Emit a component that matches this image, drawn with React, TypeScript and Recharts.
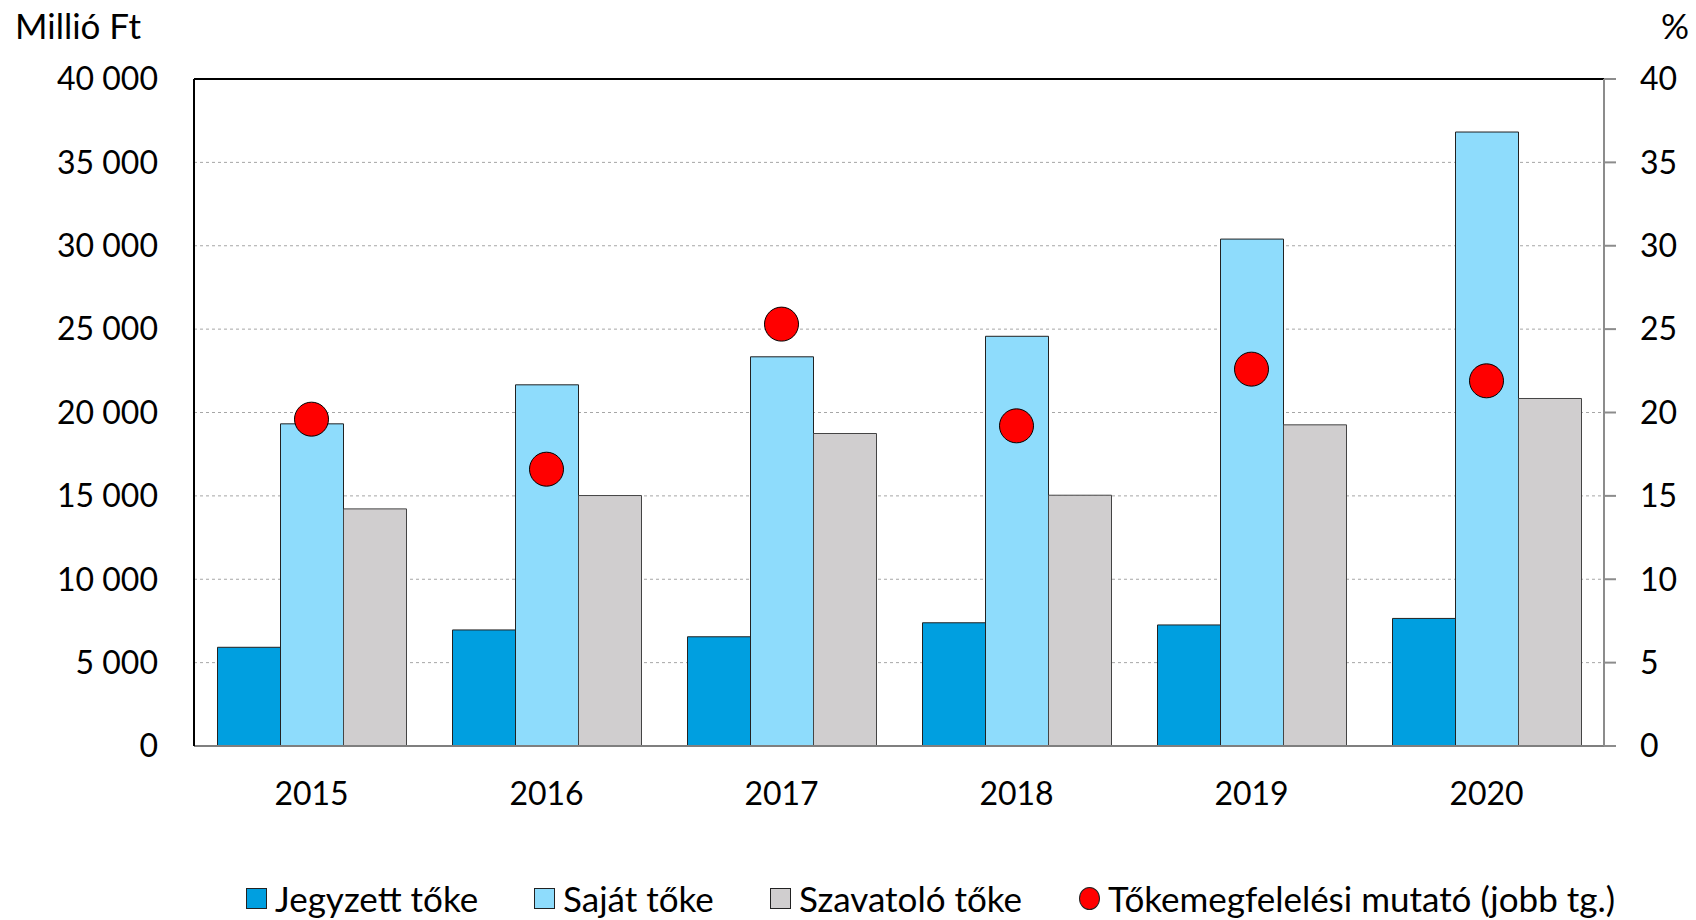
import { ComposedChart, Bar, Line, XAxis, YAxis, CartesianGrid, ReferenceLine } from 'recharts'

const years = ['2015', '2016', '2017', '2018', '2019', '2020']
const jegyzett = [5920, 6960, 6550, 7390, 7260, 7650]
const sajat = [19320, 21660, 23340, 24570, 30400, 36820]
const szavatolo = [14220, 15020, 18740, 15040, 19260, 20840]
const mutato = [19.6, 16.6, 25.3, 19.2, 22.6, 21.9]

const leftTicks = [0, 5000, 10000, 15000, 20000, 25000, 30000, 35000, 40000]
const rightTicks = [0, 5, 10, 15, 20, 25, 30, 35, 40]

const legendItems = [
  { name: 'Jegyzett tőke', color: '#009FE0', shape: 'square', x: 246 },
  { name: 'Saját tőke', color: '#8EDCFC', shape: 'square', x: 534 },
  { name: 'Szavatoló tőke', color: '#D0CECF', shape: 'square', x: 770 },
  { name: 'Tőkemegfelelési mutató (jobb tg.)', color: '#FF0000', shape: 'circle', x: 1079 },
]

const data = years.map((y, i) => ({
  year: y,
  jegyzett: jegyzett[i],
  sajat: sajat[i],
  szavatolo: szavatolo[i],
  mutato: mutato[i],
}))

const font = 'Lato, "Open Sans", sans-serif'
const fmt = (v: number) => (v >= 1000 ? `${Math.floor(v / 1000)}\u00a0${String(v % 1000).padStart(3, '0')}` : String(v))

export default function App() {
  return (
    <div style={{ position: 'absolute', left: 0, top: 0, width: 1696, height: 920, background: '#fff', fontFamily: font }}>
      <div style={{ position: 'absolute', left: 15, top: 4, fontSize: 35, color: '#000' }}>Millió Ft</div>
      <div style={{ position: 'absolute', left: 1661, top: 4, fontSize: 35, color: '#000' }}>%</div>

      <ComposedChart
        width={1696}
        height={920}
        data={data}
        margin={{ top: 79, right: 0, bottom: 0, left: 0 }}
        barCategoryGap="10%"
        barGap={0}
      >
        <CartesianGrid yAxisId="left" vertical={false} stroke="#a6a6a6" strokeDasharray="3 3" />
        <XAxis
          dataKey="year"
          height={174}
          tick={{ fill: '#000', fontSize: 32, fontFamily: font }}
          tickLine={false}
          tickSize={0}
          tickMargin={36}
          axisLine={{ stroke: '#7f7f7f', strokeWidth: 2 }}
        />
        <YAxis
          yAxisId="left"
          width={194}
          domain={[0, 40000]}
          ticks={leftTicks}
          tickFormatter={fmt}
          tick={{ fill: '#000', fontSize: 32, fontFamily: font }}
          tickLine={false}
          tickSize={0}
          tickMargin={36}
          axisLine={{ stroke: '#000', strokeWidth: 2 }}
        />
        <YAxis
          yAxisId="right"
          orientation="right"
          width={92}
          domain={[0, 40]}
          ticks={rightTicks}
          tick={{ fill: '#000', fontSize: 32, fontFamily: font, textAnchor: 'start' }}
          tickLine={{ stroke: '#8c8c8c', strokeWidth: 2 }}
          tickSize={12}
          tickMargin={24}
          axisLine={{ stroke: '#8c8c8c', strokeWidth: 2 }}
        />
        <ReferenceLine yAxisId="left" y={40000} stroke="#000" strokeWidth={2} />
        <Bar yAxisId="left" dataKey="jegyzett" fill="#009FE0" stroke="#222" strokeWidth={1} isAnimationActive={false} />
        <Bar yAxisId="left" dataKey="sajat" fill="#8EDCFC" stroke="#222" strokeWidth={1} isAnimationActive={false} />
        <Bar yAxisId="left" dataKey="szavatolo" fill="#D0CECF" stroke="#444" strokeWidth={1} isAnimationActive={false} />
        <Line
          yAxisId="right"
          dataKey="mutato"
          stroke="none"
          strokeWidth={0}
          dot={{ r: 17, fill: '#FF0000', stroke: '#000', strokeWidth: 1 }}
          activeDot={false}
          isAnimationActive={false}
        />
      </ComposedChart>

      {legendItems.map(item => (
        <div
          key={item.name}
          style={{ position: 'absolute', left: item.x, top: 878, height: 40, lineHeight: '40px', display: 'flex', alignItems: 'center', fontSize: 35, color: '#000', whiteSpace: 'nowrap' }}
        >
          <span
            style={{
              display: 'inline-block',
              width: 19,
              height: item.shape === 'circle' ? 21 : 19,
              background: item.color,
              border: '1px solid #222',
              borderRadius: item.shape === 'circle' ? '50%' : 0,
              marginRight: 8,
            }}
          />
          {item.name}
        </div>
      ))}
    </div>
  )
}
